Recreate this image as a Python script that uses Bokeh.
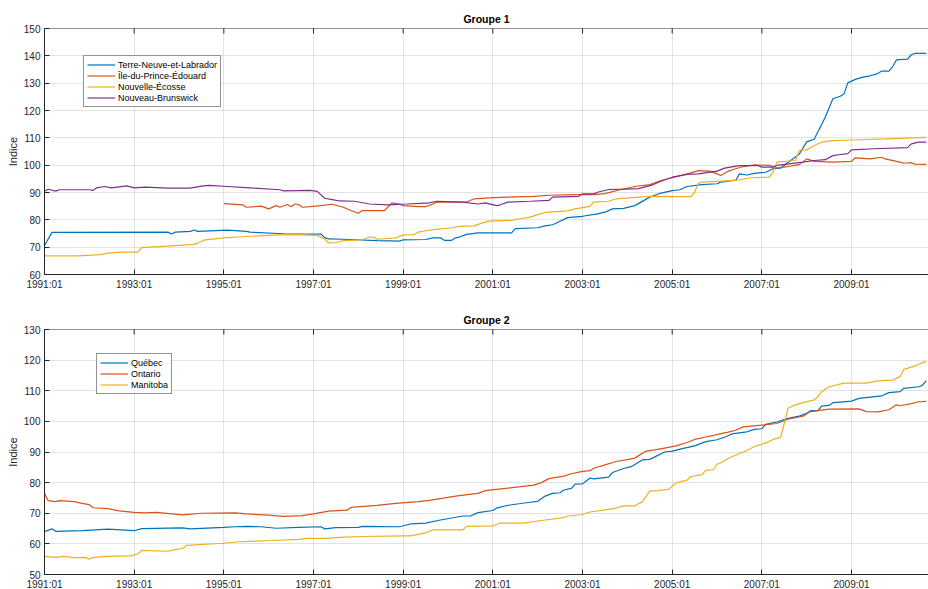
import math
from bokeh.plotting import figure
from bokeh.layouts import column
from bokeh.models import Range1d, FixedTicker, Legend, LegendItem, Span
from bokeh.embed import file_html
from bokeh.resources import INLINE

# ---- x axis: month index since 1991:01 ----
x_ticks = [0, 24, 48, 72, 96, 120, 144, 168, 192, 216]
x_tick_labels = ["1991:01", "1993:01", "1995:01", "1997:01", "1999:01",
                 "2001:01", "2003:01", "2005:01", "2007:01", "2009:01"]

# ---- Groupe 1 ----
g1_names = ["Terre-Neuve-et-Labrador", "Île-du-Prince-Édouard", "Nouvelle-Écosse", "Nouveau-Brunswick"]

tnl_m = [0, 2, 33, 34, 35, 39, 40, 41, 49, 54, 55, 64, 74, 75, 76, 80, 89, 95, 96, 102, 104, 106, 107, 109,
         110, 111, 113, 116, 125, 126, 132, 134, 136, 138, 140, 144, 148, 150, 152, 155, 158, 162, 165, 168,
         170, 172, 176, 180, 181, 185, 186, 188, 190, 193, 195, 197, 199, 202, 204, 206, 209, 211, 213, 214,
         215, 217, 219, 221, 223, 224, 226, 227, 228, 231, 232, 233, 236]
tnl_v = [70.6, 75.4, 75.5, 74.8, 75.5, 75.8, 76.3, 75.8, 76.2, 75.8, 75.5, 74.9, 74.8, 73.5, 73.0, 72.9, 72.4,
         72.2, 72.7, 72.8, 73.4, 73.4, 72.5, 72.5, 73.4, 73.7, 74.7, 75.2, 75.2, 76.8, 77.1, 77.8, 78.2, 79.5,
         80.8, 81.3, 82.2, 82.8, 84.0, 84.2, 85.2, 88.3, 89.8, 90.7, 91.0, 92.2, 92.9, 93.2, 93.8, 94.5, 96.8,
         96.4, 97.0, 97.4, 98.7, 98.9, 101.0, 104.0, 108.5, 109.5, 117.6, 124.3, 125.2, 126.1, 130.1, 131.4,
         132.2, 132.7, 133.5, 134.4, 134.4, 136.0, 138.5, 138.8, 140.4, 140.9, 140.9]

ipe_m = [48, 53, 54, 58, 60, 62, 63, 65, 66, 67, 68, 69, 71, 74, 77, 80, 82, 84, 85, 91, 93, 95, 96, 100, 102,
         104, 105, 113, 115, 119, 124, 131, 135, 142, 147, 150, 154, 158, 162, 165, 168, 172, 175, 178, 180,
         181, 183, 185, 187, 190, 194, 196, 199, 202, 204, 206, 211, 216, 217, 221, 224, 225, 229, 230, 232,
         233, 236]
ipe_v = [85.9, 85.5, 84.6, 85.0, 84.0, 85.2, 84.6, 85.6, 84.8, 85.8, 85.6, 84.6, 84.8, 85.2, 85.7, 84.6, 83.4,
         82.4, 83.4, 83.4, 86.2, 85.8, 85.2, 84.8, 84.8, 85.8, 86.5, 86.5, 87.7, 88.0, 88.3, 88.6, 89.0, 89.2,
         89.2, 89.6, 91.0, 92.2, 92.9, 94.4, 95.4, 96.8, 98.0, 97.8, 96.8, 96.2, 97.8, 98.7, 99.5, 100.1, 99.9,
         99.0, 99.5, 100.2, 102.3, 101.4, 101.1, 101.4, 102.7, 102.3, 102.9, 102.3, 101.1, 100.7, 100.9, 100.4,
         100.3]

ne_m = [0, 9, 15, 17, 20, 25, 26, 28, 34, 40, 41, 43, 48, 54, 61, 66, 73, 75, 76, 78, 80, 85, 87, 88, 89, 94,
        96, 99, 100, 103, 106, 109, 111, 115, 117, 119, 125, 127, 130, 132, 134, 140, 142, 146, 147, 151, 153,
        159, 162, 173, 174, 175, 176, 185, 189, 194, 195, 196, 201, 202, 204, 206, 208, 211, 216, 225, 236]
ne_v = [66.8, 66.8, 67.3, 67.8, 68.2, 68.2, 69.8, 70.0, 70.5, 71.0, 71.5, 72.7, 73.4, 73.9, 74.4, 74.6, 74.3,
        73.0, 71.6, 71.7, 72.4, 72.7, 73.7, 73.7, 72.9, 73.4, 74.5, 74.6, 75.5, 76.2, 76.7, 77.1, 77.6, 77.8,
        78.8, 79.5, 79.8, 80.4, 81.0, 81.9, 82.7, 83.3, 84.0, 84.9, 86.5, 86.8, 87.7, 88.3, 88.6, 88.5, 90.0,
        93.4, 93.8, 94.4, 95.4, 95.6, 97.4, 101.1, 101.7, 105.4, 105.6, 107.2, 108.4, 109.0, 109.2, 109.6, 110.2]

nb_m = [0, 1, 3, 4, 12, 13, 14, 16, 18, 22, 24, 27, 33, 39, 42, 44, 49, 55, 63, 64, 71, 73, 75, 77, 79, 83, 87,
        92, 97, 103, 105, 112, 116, 118, 121, 122, 124, 130, 135, 136, 143, 144, 147, 148, 151, 155, 159, 163,
        165, 168, 172, 175, 180, 182, 186, 191, 192, 195, 196, 203, 206, 209, 211, 213, 215, 216, 222, 231, 232,
        234, 236]
nb_v = [90.5, 91.2, 90.5, 91.0, 91.0, 90.8, 91.7, 92.2, 91.7, 92.4, 91.7, 92.0, 91.6, 91.6, 92.3, 92.6, 92.2,
        91.7, 91.0, 90.6, 90.8, 90.4, 87.9, 87.4, 86.9, 86.8, 85.8, 85.5, 85.8, 86.2, 86.8, 86.5, 85.8, 86.2,
        85.2, 85.5, 86.5, 86.8, 87.1, 88.3, 88.6, 89.5, 89.5, 90.1, 91.1, 91.2, 91.4, 92.9, 94.1, 95.6, 96.6,
        96.8, 97.8, 98.9, 99.8, 99.8, 99.3, 99.3, 99.9, 101.1, 101.7, 102.0, 103.5, 103.9, 104.2, 105.6, 106.0,
        106.4, 107.8, 108.4, 108.4]

# ---- Groupe 2 ----
g2_names = ["Québec", "Ontario", "Manitoba"]

qc_m = [0, 2, 3, 10, 17, 24, 26, 37, 39, 48, 51, 54, 58, 62, 68, 74, 75, 78, 84, 85, 95, 98, 102, 106, 112, 114,
        116, 120, 121, 124, 130, 132, 134, 136, 138, 139, 141, 142, 144, 146, 147, 151, 152, 155, 157, 160, 162,
        166, 168, 171, 174, 177, 180, 182, 184, 188, 190, 192, 193, 196, 199, 202, 204, 205, 207, 208, 210, 211,
        213, 216, 218, 224, 226, 229, 230, 234, 235, 236]
qc_v = [64.0, 64.9, 64.1, 64.3, 64.8, 64.3, 65.0, 65.2, 64.9, 65.4, 65.6, 65.7, 65.6, 65.1, 65.4, 65.6, 64.9,
        65.3, 65.4, 65.7, 65.6, 66.5, 66.8, 67.8, 69.1, 69.1, 70.2, 70.9, 71.7, 72.6, 73.6, 73.9, 75.6, 76.5,
        76.7, 77.6, 78.1, 79.5, 79.6, 81.5, 81.2, 81.8, 83.3, 84.6, 85.2, 87.4, 87.6, 90.0, 90.3, 91.2, 92.0,
        93.4, 94.0, 94.8, 95.9, 96.6, 97.4, 97.6, 99.0, 99.8, 101.0, 101.7, 102.6, 103.5, 103.5, 105.0, 105.2,
        106.1, 106.3, 106.6, 107.5, 108.3, 109.4, 109.7, 110.8, 111.3, 111.8, 113.3]

on_m = [0, 1, 3, 4, 8, 10, 12, 13, 17, 20, 24, 27, 30, 37, 42, 51, 54, 60, 64, 69, 72, 76, 81, 82, 89, 94, 100,
        103, 106, 110, 116, 118, 124, 131, 133, 135, 139, 141, 144, 146, 147, 150, 153, 156, 158, 161, 163, 167,
        169, 172, 174, 177, 179, 181, 183, 185, 187, 192, 196, 199, 203, 205, 210, 218, 220, 223, 226, 228, 229,
        232, 234, 236]
on_v = [76.5, 74.1, 73.8, 74.1, 73.8, 73.2, 72.8, 71.8, 71.5, 70.8, 70.3, 70.1, 70.3, 69.5, 70.0, 70.1, 69.8,
        69.4, 69.0, 69.2, 69.8, 70.7, 71.0, 71.9, 72.6, 73.2, 73.8, 74.2, 74.8, 75.6, 76.5, 77.4, 78.2, 79.2,
        80.0, 81.3, 82.1, 82.9, 83.7, 83.9, 84.7, 85.8, 86.9, 87.5, 88.0, 90.3, 90.6, 91.5, 92.0, 93.1, 94.1,
        94.9, 95.4, 96.0, 96.5, 97.1, 98.2, 98.8, 99.3, 100.7, 101.7, 103.2, 104.0, 104.1, 103.2, 103.1, 103.8,
        105.4, 105.1, 105.8, 106.4, 106.5]

mb_m = [0, 3, 5, 8, 11, 12, 13, 17, 23, 25, 26, 33, 35, 37, 38, 48, 52, 61, 68, 70, 75, 79, 85, 96, 98, 102, 104,
        112, 113, 120, 122, 128, 134, 139, 140, 144, 146, 150, 153, 155, 158, 159, 160, 162, 164, 167, 169, 172,
        173, 176, 177, 179, 180, 181, 183, 185, 188, 190, 193, 195, 197, 198, 199, 201, 203, 206, 207, 208, 210,
        214, 220, 223, 227, 229, 230, 233, 235, 236]
mb_v = [55.9, 55.6, 55.9, 55.5, 55.6, 55.0, 55.6, 55.9, 56.1, 56.7, 57.9, 57.6, 58.1, 58.5, 59.5, 60.2, 60.7,
        61.1, 61.5, 61.8, 61.8, 62.1, 62.4, 62.6, 62.6, 63.6, 64.6, 64.6, 65.7, 65.9, 66.8, 66.8, 67.8, 68.6,
        69.1, 69.6, 70.4, 71.1, 71.7, 72.4, 72.4, 73.2, 73.7, 77.2, 77.4, 77.8, 79.9, 80.8, 82.0, 82.6, 84.0,
        84.2, 86.0, 86.5, 87.9, 89.0, 90.5, 91.8, 92.9, 94.1, 94.8, 99.3, 104.3, 105.4, 106.1, 107.0, 108.1,
        109.7, 111.3, 112.5, 112.5, 113.2, 113.5, 114.6, 117.0, 118.1, 119.2, 119.5]

colors = ["#0072BD", "#D95319", "#EDB120", "#7E2F8E"]
AX = "#262626"
FONT = "Liberation Sans"


def make_fig(title, ymin, ymax, yticks, top, fh, bottom, series, names, leg_loc):
    p = figure(frame_width=884, frame_height=fh,
               x_range=Range1d(0, 236.6), y_range=Range1d(ymin, ymax),
               output_backend="svg", toolbar_location=None,
               min_border_left=44, min_border_right=0,
               min_border_top=top, min_border_bottom=bottom)
    p.title.text = title
    p.title.align = "center"
    p.title.text_font = FONT
    p.title.text_font_size = "10.5px"
    p.title.text_font_style = "bold"
    p.title.text_color = "#000000"
    p.title.standoff = 7
    p.outline_line_color = None
    p.background_fill_color = "white"
    p.border_fill_color = "white"

    xa = p.xaxis[0]
    xa.ticker = FixedTicker(ticks=x_ticks)
    xa.major_label_overrides = {t: l for t, l in zip(x_ticks, x_tick_labels)}
    ya = p.yaxis[0]
    ya.ticker = FixedTicker(ticks=yticks)
    ya.axis_label = "Indice"
    ya.axis_label_text_font = FONT
    ya.axis_label_text_font_size = "11px"
    ya.axis_label_text_font_style = "normal"
    ya.axis_label_text_color = AX
    ya.axis_label_standoff = 2

    for ax in (xa, ya):
        ax.major_tick_in = 5
        ax.major_tick_out = 0
        ax.minor_tick_in = 0
        ax.minor_tick_out = 0
        ax.axis_line_color = AX
        ax.major_tick_line_color = AX
        ax.major_label_text_color = AX
        ax.major_label_text_font = FONT
        ax.major_label_text_font_size = "10px"
        ax.major_label_standoff = 4

    p.xgrid.ticker = FixedTicker(ticks=x_ticks)
    p.ygrid.ticker = FixedTicker(ticks=yticks)
    for g in (p.xgrid[0], p.ygrid[0]):
        g.grid_line_color = AX
        g.grid_line_alpha = 0.13
        g.grid_line_width = 1

    # top box edge with inward ticks (the box is open on the right, as in the reference)
    p.add_layout(Span(location=ymax, dimension="width", line_color=AX, line_width=1))
    p.scatter(x_ticks, [ymax] * len(x_ticks), marker="dash", angle=math.pi / 2, size=10,
              line_color=AX, line_width=1)

    items = []
    for (mx, vy), name, c in zip(series, names, colors):
        r = p.line(mx, vy, line_color=c, line_width=1.2)
        items.append(LegendItem(label=name, renderers=[r]))

    leg = Legend(items=items, location=leg_loc)
    leg.border_line_color = AX
    leg.border_line_width = 1
    leg.background_fill_color = "white"
    leg.background_fill_alpha = 1
    leg.label_text_font = FONT
    leg.label_text_font_size = "9px"
    leg.label_text_color = "#000000"
    leg.label_height = 11
    leg.glyph_height = 11
    leg.glyph_width = 28
    leg.label_standoff = 3
    leg.padding = 3
    leg.spacing = 0
    leg.margin = 0
    p.add_layout(leg)
    return p


p1 = make_fig("Groupe 1", 60, 150, list(range(60, 151, 10)), 28, 246, 26,
              [(tnl_m, tnl_v), (ipe_m, ipe_v), (ne_m, ne_v), (nb_m, nb_v)], g1_names, (39, 167))
p2 = make_fig("Groupe 2", 50, 130, list(range(50, 131, 10)), 29, 245, 15,
              [(qc_m, qc_v), (on_m, on_v), (mb_m, mb_v)], g2_names, (52, 180))

layout = column(p1, p2, spacing=0)
open("out.html", "w").write(file_html(layout, INLINE))
